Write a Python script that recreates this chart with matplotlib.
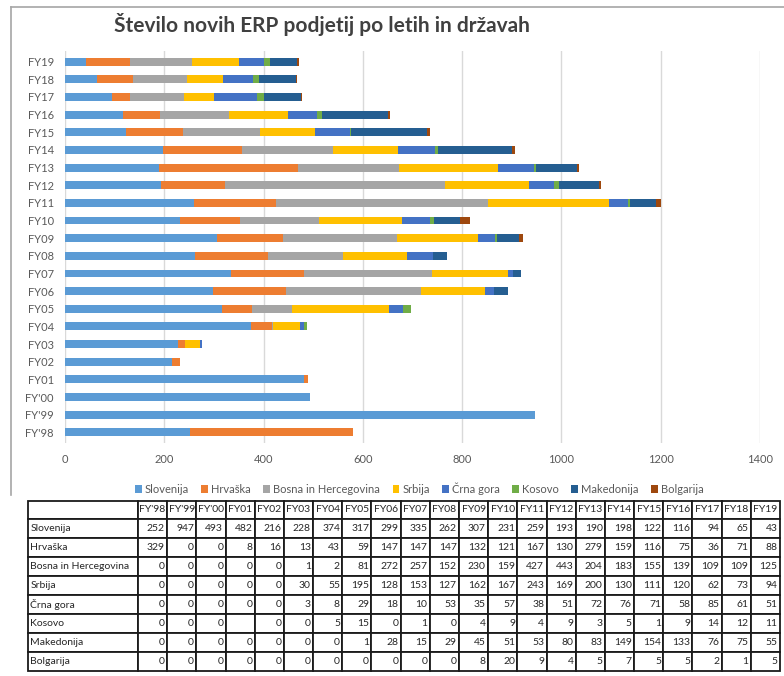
import numpy as np
import matplotlib
matplotlib.use('Agg')
import matplotlib.pyplot as plt
from matplotlib.lines import Line2D

plt.rcParams['font.family'] = ['Lato', 'DejaVu Sans']

years = ["FY'98", "FY'99", "FY'00", "FY01", "FY02", "FY03", "FY04", "FY05", "FY06", "FY07", "FY08",
         "FY09", "FY10", "FY11", "FY12", "FY13", "FY14", "FY15", "FY16", "FY17", "FY18", "FY19"]
countries = ['Slovenija', 'Hrvaška', 'Bosna in Hercegovina', 'Srbija', 'Črna gora', 'Kosovo', 'Makedonija', 'Bolgarija']
colors = ['#5B9BD5', '#ED7D31', '#A5A5A5', '#FFC000', '#4472C4', '#70AD47', '#255E91', '#9E480E']

slovenija  = [252, 947, 493, 482, 216, 228, 374, 317, 299, 335, 262, 307, 231, 259, 193, 190, 198, 122, 116, 94, 65, 43]
hrvaska    = [329, 0, 0, 8, 16, 13, 43, 59, 147, 147, 147, 132, 121, 167, 130, 279, 159, 116, 75, 36, 71, 88]
bih        = [0, 0, 0, 0, 0, 1, 2, 81, 272, 257, 152, 230, 159, 427, 443, 204, 183, 155, 139, 109, 109, 125]
srbija     = [0, 0, 0, 0, 0, 30, 55, 195, 128, 153, 127, 162, 167, 243, 169, 200, 130, 111, 120, 62, 73, 94]
crna_gora  = [0, 0, 0, 0, 0, 3, 8, 29, 18, 10, 53, 35, 57, 38, 51, 72, 76, 71, 58, 85, 61, 51]
kosovo     = [0, 0, 0, None, 0, 0, 5, 15, 0, 1, 0, 4, 9, 4, 9, 3, 5, 1, 9, 14, 12, 11]
makedonija = [0, 0, 0, 0, 0, 0, 0, 1, 28, 15, 29, 45, 51, 53, 80, 83, 149, 154, 133, 76, 75, 55]
bolgarija  = [0, 0, 0, 0, 0, 0, 0, 0, 0, 0, 0, 8, 20, 9, 4, 5, 7, 5, 5, 2, 1, 5]

series = [slovenija, hrvaska, bih, srbija, crna_gora, kosovo, makedonija, bolgarija]

W, H = 784, 676
fig = plt.figure(figsize=(W / 100, H / 100), dpi=100)

# chart frame (left + top border)
fig.add_artist(Line2D([11 / W, 11 / W], [1 - 7 / H, 1 - 495 / H], color='#a6a6a6', lw=1.2))
fig.add_artist(Line2D([11 / W, 1], [1 - 7 / H, 1 - 7 / H], color='#a6a6a6', lw=1.2))

fig.text(322 / W, 1 - 25 / H, 'Število novih ERP podjetij po letih in državah',
         ha='center', va='center', fontsize=15, fontweight='bold', color='#404040')

ax = fig.add_axes([65 / W, 1 - 443 / H, 695 / W, 392 / H])
y = np.arange(len(years))
left = np.zeros(len(years))
for name, vals, c in zip(countries, series, colors):
    v = np.array([0 if x is None else x for x in vals], dtype=float)
    ax.barh(y, v, left=left, height=0.45, color=c, label=name, zorder=3)
    left += v

ax.set_xlim(0, 1400)
ax.set_ylim(-0.6, len(years) - 0.4)
ax.set_xticks(np.arange(0, 1401, 200))
ax.set_yticks(y)
ax.set_yticklabels(years)
ax.grid(axis='x', color='#d9d9d9', lw=1, zorder=0)
for s in ax.spines.values():
    s.set_visible(False)
ax.tick_params(length=0, colors='#595959', labelsize=8)
ax.tick_params(axis='y', pad=8)
ax.tick_params(axis='x', pad=8)

ax.legend(loc='upper center', bbox_to_anchor=(0.51, -0.075), ncol=8, frameon=False,
          fontsize=8, handlelength=0.6, handleheight=0.6, handletextpad=0.3,
          columnspacing=1.1, labelcolor='#595959')

# data table
tax = fig.add_axes([28 / W, 1 - 671 / H, 752 / W, 170 / H])
tax.axis('off')
cells = [[''] + years]
for name, vals in zip(countries, series):
    cells.append([name] + ['' if v is None else str(v) for v in vals])
colw = [110] + [642 / 22] * 22
tbl = tax.table(cellText=cells, bbox=[0, 0, 1, 1], colWidths=[c / 752 for c in colw])
tbl.auto_set_font_size(False)
tbl.set_fontsize(7.5)
for (r, c), cell in tbl.get_celld().items():
    cell.set_linewidth(1.3)
    cell.set_edgecolor('#1a1a1a')
    cell.get_text().set_color('#262626')
    if c == 0:
        cell.PAD = 0.02
        loc = 'left'
    elif r == 0:
        cell.PAD = 0.03
        loc = 'center'
    else:
        cell.PAD = 0.08
        loc = 'right'
    cell._loc = loc
    cell.get_text().set_ha(loc)
    cell.set_height(18 if r == 0 else 19)

fig.savefig('out.png', dpi=100)
